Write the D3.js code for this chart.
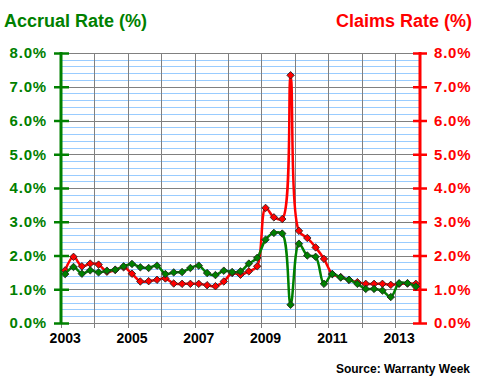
<!DOCTYPE html>
<html>
<head>
    <meta charset="utf-8">
    <script src="https://d3js.org/d3.v7.min.js"></script>
    <style>
        body { margin: 0; background: #fff; }
        text { font-family: Arial, "Liberation Sans", sans-serif; font-weight: bold; }
    </style>
</head>
<body>
<script>
    // quarterly, 2003 Q1 .. 2013 Q3
    var years = [2003, 2004, 2005, 2006, 2007, 2008, 2009, 2010, 2011, 2012, 2013];
    var yearLabels = [2003, 2005, 2007, 2009, 2011, 2013];
    var pctTicks = [0, 1, 2, 3, 4, 5, 6, 7, 8];

    var accrual = [1.45, 1.66, 1.46, 1.56, 1.50, 1.55, 1.58, 1.68, 1.75, 1.65, 1.63,
                   1.70, 1.45, 1.50, 1.51, 1.63, 1.70, 1.48, 1.42, 1.55, 1.51, 1.53,
                   1.76, 1.93, 2.47, 2.67, 2.65, 0.54, 2.35, 2.00, 1.96, 1.16, 1.45,
                   1.35, 1.28, 1.16, 1.01, 1.01, 0.96, 0.77, 1.18, 1.18, 1.08];
    var claims  = [1.56, 1.96, 1.68, 1.76, 1.73, 1.52, 1.57, 1.65, 1.46, 1.23, 1.24,
                   1.28, 1.32, 1.17, 1.16, 1.16, 1.16, 1.12, 1.09, 1.23, 1.48, 1.43,
                   1.53, 1.68, 3.41, 3.13, 3.08, 7.34, 2.73, 2.52, 2.24, 1.90, 1.45,
                   1.36, 1.28, 1.21, 1.16, 1.16, 1.16, 1.13, 1.16, 1.17, 1.16];

    var width = 480, height = 380,
        plotL = 61, plotR = 420, plotT = 53, plotB = 323;

    var green = "#008000", red = "#ff0000";

    var svg = d3.select("body").append("svg")
        .attr("width", width)
        .attr("height", height);

    // category scale: one slot per quarter
    var x = d3.scaleLinear().domain([0, accrual.length]).range([plotL, plotR]);
    var y = d3.scaleLinear().domain([0, 8]).range([plotB, plotT]);

    // minor gridlines every 0.2%
    var minor = d3.range(0, 40).map(function(k) { return k * 0.2; })
        .filter(function(v, k) { return k % 5 != 0; });
    svg.append("g").selectAll("line")
      .data(minor)
      .enter().append("line")
        .attr("x1", plotL).attr("x2", plotR)
        .attr("y1", function(d) { return Math.round(y(d)) + 0.5; })
        .attr("y2", function(d) { return Math.round(y(d)) + 0.5; })
        .style("stroke", "#99ccff");

    // major gridlines
    svg.append("g").selectAll("line")
      .data(pctTicks)
      .enter().append("line")
        .attr("x1", plotL).attr("x2", plotR)
        .attr("y1", function(d) { return Math.round(y(d)) + 0.5; })
        .attr("y2", function(d) { return Math.round(y(d)) + 0.5; })
        .style("stroke", "#808080");

    // vertical year gridlines, running a little under the axis as ticks
    svg.append("g").selectAll("line")
      .data(years)
      .enter().append("line")
        .attr("x1", function(d, i) { return Math.round(x(i * 4)) + 0.5; })
        .attr("x2", function(d, i) { return Math.round(x(i * 4)) + 0.5; })
        .attr("y1", plotT).attr("y2", plotB + 5)
        .style("stroke", "#808080");

    // year labels centred on the first quarter
    svg.append("g").selectAll("text")
      .data(yearLabels)
      .enter().append("text")
        .attr("x", function(d) { return x((d - 2003) * 4 + 0.5); })
        .attr("y", 343)
        .attr("text-anchor", "middle")
        .style("font-size", "14px")
        .style("fill", "#000")
        .text(function(d) { return d; });

    var fmt = function(d) { return d.toFixed(1) + "%"; };

    var axisL = svg.append("g")
        .attr("transform", "translate(" + plotL + ",0)")
        .call(d3.axisLeft(y).tickValues(pctTicks).tickFormat(fmt).tickSize(7).tickPadding(7));
    axisL.select(".domain").attr("d", "M0," + (plotT - 1) + "V" + (plotB + 1))
        .style("stroke", green).style("stroke-width", 3);
    axisL.selectAll(".tick line").attr("x2", -7).attr("x1", 8)
        .style("stroke", green).style("stroke-width", 2.5);
    axisL.selectAll(".tick text")
        .style("fill", green).style("font-size", "15px")
        .style("letter-spacing", "0.8px").style("font-family", "Arial, 'Liberation Sans', sans-serif");

    var axisR = svg.append("g")
        .attr("transform", "translate(" + plotR + ",0)")
        .call(d3.axisRight(y).tickValues(pctTicks).tickFormat(fmt).tickSize(7).tickPadding(7));
    axisR.select(".domain").attr("d", "M0," + (plotT - 1) + "V" + (plotB + 1))
        .style("stroke", red).style("stroke-width", 3);
    axisR.selectAll(".tick line").attr("x2", 7).attr("x1", -7)
        .style("stroke", red).style("stroke-width", 2.5);
    axisR.selectAll(".tick text")
        .style("fill", red).style("font-size", "15px")
        .style("letter-spacing", "0.8px").style("font-family", "Arial, 'Liberation Sans', sans-serif");

    var line = d3.line()
        .x(function(d, i) { return x(i + 0.5); })
        .y(function(d) { return y(d); })
        .curve(d3.curveCatmullRom);

    var diamond = d3.symbol().type(d3.symbolSquare).size(28);

    function drawSeries(values, color) {
        svg.append("path")
            .datum(values)
            .attr("d", line)
            .style("fill", "none")
            .style("stroke", color)
            .style("stroke-width", 2.5);
        svg.append("g").selectAll("path")
          .data(values)
          .enter().append("path")
            .attr("d", diamond)
            .attr("transform", function(d, i) {
                return "translate(" + x(i + 0.5) + "," + y(d) + ") rotate(45)";
            })
            .style("fill", color)
            .style("stroke", "#202020")
            .style("stroke-width", 0.8);
    }

    drawSeries(claims, red);
    drawSeries(accrual, green);

    svg.append("text")
        .attr("x", 4).attr("y", 27)
        .style("font-size", "18px").style("fill", green)
        .text("Accrual Rate (%)");

    svg.append("text")
        .attr("x", 472).attr("y", 27)
        .attr("text-anchor", "end")
        .style("font-size", "18px").style("fill", red)
        .text("Claims Rate (%)");

    svg.append("text")
        .attr("x", 470).attr("y", 373)
        .attr("text-anchor", "end")
        .style("font-size", "12px").style("fill", "#000")
        .text("Source: Warranty Week");
</script>
</body>
</html>
